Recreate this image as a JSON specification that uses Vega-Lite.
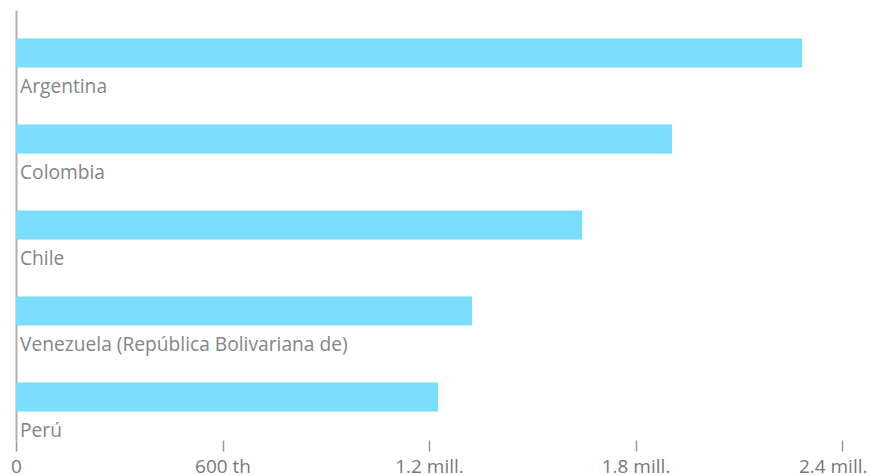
{
  "$schema": "https://vega.github.io/schema/vega-lite/v6.json",
  "width": 826,
  "height": 430,
  "autosize": "none",
  "padding": {"left": 16, "top": 10, "right": 27, "bottom": 35},
  "config": {"view": {"stroke": null}, "font": "Open Sans"},
  "data": {
    "values": [
      {"country": "Argentina", "value": 2284000},
      {"country": "Colombia", "value": 1906000},
      {"country": "Chile", "value": 1645000},
      {"country": "Venezuela (República Bolivariana de)", "value": 1325000},
      {"country": "Perú", "value": 1226000}
    ]
  },
  "encoding": {
    "y": {
      "field": "country",
      "type": "nominal",
      "sort": null,
      "scale": {"paddingInner": 0, "paddingOuter": 0},
      "axis": {
        "title": null,
        "labels": false,
        "ticks": false,
        "domain": true,
        "domainColor": "#b0b0b0",
        "domainWidth": 2
      }
    }
  },
  "layer": [
    {
      "mark": {"type": "bar", "size": 29, "color": "#78defc"},
      "encoding": {
        "x": {
          "field": "value",
          "type": "quantitative",
          "scale": {"domain": [0, 2400000], "nice": false},
          "axis": {
            "title": null,
            "grid": false,
            "domain": false,
            "values": [0, 600000, 1200000, 1800000, 2400000],
            "tickSize": 11,
            "tickColor": "#999999",
            "tickWidth": 1.5,
            "labelPadding": 6,
            "labelFont": "Open Sans",
            "labelFontSize": 19,
            "labelColor": "#787878",
            "labelFlush": false,
            "labelAlign": {"expr": "datum.value == 2400000 ? 'right' : 'center'"},
            "labelOffset": {"expr": "datum.value == 2400000 ? 25 : 0"},
            "labelExpr": "datum.value == 0 ? '0' : (datum.value < 1000000 ? format(datum.value/1000, 'd') + ' th' : format(datum.value/1000000, '.1f') + ' mill.')"
          }
        }
      }
    },
    {
      "mark": {
        "type": "text",
        "align": "left",
        "baseline": "middle",
        "dx": 4,
        "yOffset": 34,
        "font": "Open Sans",
        "fontSize": 19.2,
        "color": "#858585"
      },
      "encoding": {
        "x": {"datum": 0, "type": "quantitative"},
        "text": {"field": "country"}
      }
    }
  ]
}
